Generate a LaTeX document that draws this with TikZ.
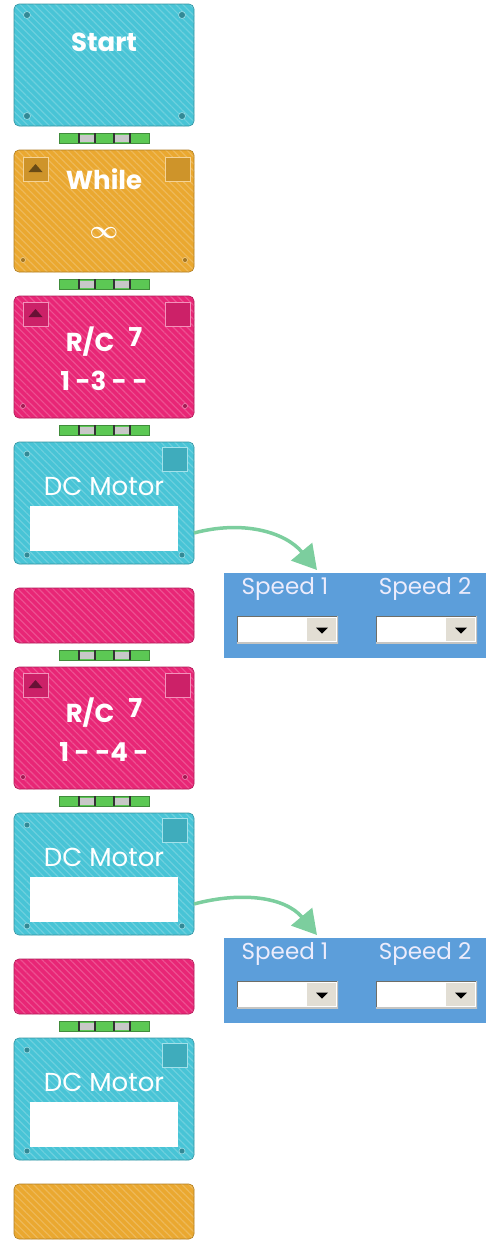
\documentclass[tikz,border=0pt]{standalone}
\usepackage{amsmath}
\usepackage{fontspec}
\setmainfont{Poppins}
\usetikzlibrary{arrows.meta, positioning, calc, patterns.meta}

\definecolor{blockcyan}{RGB}{72,196,214}
\definecolor{blockorange}{RGB}{234,168,48}
\definecolor{blockpink}{RGB}{232,38,118}
\definecolor{linkgreen}{RGB}{92,200,84}
\definecolor{linkgray}{RGB}{200,200,200}
\definecolor{panelblue}{RGB}{92,158,218}
\definecolor{speedwhite}{RGB}{236,236,252}
\definecolor{combogray}{RGB}{226,222,212}
\definecolor{combodark}{RGB}{110,110,104}
\definecolor{flowgreen}{RGB}{124,206,158}

\begin{document}
\begin{tikzpicture}[x=1pt, y=1pt,
    node distance=24pt,
    every node/.style={inner sep=0pt, outer sep=0pt},
    block/.style={rectangle, rounded corners=5pt, minimum width=180pt, minimum height=122pt,
      draw=#1!75!black, line width=0.6pt, preaction={fill=#1},
      pattern={Lines[angle=-45, distance=5pt, line width=1.2pt]}, pattern color=#1!80!white},
    endblock/.style={block=#1, minimum height=55pt},
    blocktext/.style={text=white, font=\fontsize{26}{30}\selectfont\bfseries},
    link/.style={rectangle, fill=linkgreen, draw=linkgreen!70!black, line width=0.4pt,
      minimum width=90pt, minimum height=10pt},
    rivet/.style={fill=#1!70!black, draw=#1!55!white, line width=0.6pt},
    cornerbox/.style={rectangle, minimum width=25pt, minimum height=24pt,
      fill=#1!88!black, draw=#1!50!white, line width=0.8pt},
    upbutton/.style={cornerbox=#1, path picture={
        \fill[#1!45!black] ([shift={(-7,-3)}]path picture bounding box.center)
          -- ++(14,0) -- ++(-7,8) -- cycle;}},
    field/.style={rectangle, fill=white, minimum width=148pt, minimum height=45pt},
    panel/.style={rectangle, fill=panelblue, minimum width=262pt, minimum height=85pt},
    speedtext/.style={text=speedwhite, font=\fontsize{23}{25}\selectfont},
    combo/.style={rectangle, fill=white, minimum width=101pt, minimum height=27pt, path picture={
        \fill[combogray] ([shift={(-31,2)}]path picture bounding box.south east)
          rectangle ([shift={(-2,-2)}]path picture bounding box.north east);
        \fill[black] ([shift={(-22,2)}]path picture bounding box.east)
          -- ++(12,0) -- ++(-6,-6) -- cycle;
        \draw[combodark, line width=2pt] (path picture bounding box.south west)
          -- (path picture bounding box.north west) -- (path picture bounding box.north east);
        \draw[combodark!40!white, line width=1.5pt] (path picture bounding box.north east)
          -- (path picture bounding box.south east) -- (path picture bounding box.south west);}},
    flow/.style={draw=flowgreen, line width=3.5pt, -{Triangle[length=24pt, width=27pt]}}
  ]
  \useasboundingbox (0,0) rectangle (486,-1243);

  % program blocks, top to bottom
  \node[block=blockcyan] (start) at (104,-65) {};
  \node[block=blockorange, below=of start] (while) {};
  \node[block=blockpink, below=of while] (rc1) {};
  \node[block=blockcyan, below=of rc1] (dc1) {};
  \node[endblock=blockpink, below=of dc1] (pink1) {};
  \node[block=blockpink, below=of pink1] (rc2) {};
  \node[block=blockcyan, below=of rc2] (dc2) {};
  \node[endblock=blockpink, below=of dc2] (pink2) {};
  \node[block=blockcyan, below=of pink2] (dc3) {};
  \node[endblock=blockorange, below=of dc3] (whileend) {};

  % links between blocks
  \node[link] (link1) at ($(start.south)!0.5!(while.north)$) {};
  \node[link] (link2) at ($(while.south)!0.5!(rc1.north)$) {};
  \node[link] (link3) at ($(rc1.south)!0.5!(dc1.north)$) {};
  \node[link] (link4) at ($(pink1.south)!0.5!(rc2.north)$) {};
  \node[link] (link5) at ($(rc2.south)!0.5!(dc2.north)$) {};
  \node[link] (link6) at ($(pink2.south)!0.5!(dc3.north)$) {};
  \foreach \l in {link1,link2,link3,link4,link5,link6}
    \foreach \s in {19,54} {
      \fill[linkgray] ([shift={(\s,1.5)}]\l.south west) rectangle ([shift={(\s+18,-1.5)}]\l.north west);
      \fill[black!80] ([shift={(\s,0)}]\l.south west) rectangle ([shift={(\s+2,0)}]\l.north west);
      \fill[black!80] ([shift={(\s+16,0)}]\l.south west) rectangle ([shift={(\s+18,0)}]\l.north west);
    }

  % start
  \node[blocktext] (starttext) at ([yshift=-38]start.north) {Start};
  \foreach \c/\dx/\dy in {north west/13/-11, north east/-12/-11, south west/13/10, south east/-12/10}
    \fill[rivet=blockcyan] ([shift={(\dx,\dy)}]start.\c) circle (3.5);

  % while
  \node[blocktext] (whiletext) at ([yshift=-29]while.north) {While};
  \node[blocktext] (whileloop) at ([yshift=-83]while.north) {$\boldsymbol{\infty}$};
  \node[upbutton=blockorange, anchor=north west] (whileup) at ([shift={(9,-7)}]while.north west) {};
  \node[cornerbox=blockorange, anchor=north east] (whilebox) at ([shift={(-4,-7)}]while.north east) {};
  \fill[rivet=blockorange] ([shift={(9,12)}]while.south west) circle (2.5);
  \fill[rivet=blockorange] ([shift={(-9,12)}]while.south east) circle (2.5);

  % remote control blocks
  \node[blocktext] (rc1text) at ([yshift=-46]rc1.north) {R/C\hspace{14pt}\raisebox{5pt}{7}};
  \node[blocktext] (rc1code) at ([yshift=-85]rc1.north) {1 -3 - -};
  \node[blocktext] (rc2text) at ([yshift=-46]rc2.north) {R/C\hspace{14pt}\raisebox{5pt}{7}};
  \node[blocktext] (rc2code) at ([yshift=-85]rc2.north) {1 - -4 -};
  \foreach \b in {rc1,rc2} {
    \node[upbutton=blockpink, anchor=north west] (\b up) at ([shift={(9,-6)}]\b.north west) {};
    \node[cornerbox=blockpink, anchor=north east] (\b box) at ([shift={(-4,-6)}]\b.north east) {};
    \fill[rivet=blockpink] ([shift={(9,12)}]\b.south west) circle (2.5);
    \fill[rivet=blockpink] ([shift={(-9,12)}]\b.south east) circle (2.5);
  }

  % motor blocks
  \foreach \b in {dc1,dc2,dc3} {
    \node[blocktext, font=\fontsize{26}{30}\selectfont] (\b text) at ([yshift=-44]\b.north) {DC Motor};
    \node[field] (\b field) at ([yshift=-86.5]\b.north) {};
    \node[cornerbox=blockcyan, anchor=north east] (\b box) at ([shift={(-7,-5)}]\b.north east) {};
    \fill[rivet=blockcyan] ([shift={(13,-12)}]\b.north west) circle (3);
    \fill[rivet=blockcyan] ([shift={(13,9)}]\b.south west) circle (3);
    \fill[rivet=blockcyan] ([shift={(-12,9)}]\b.south east) circle (3);
  }

  % speed settings of the motors
  \node[panel, right=30pt of pink1] (speedA) {};
  \node[panel, right=30pt of pink2, yshift=6pt] (speedB) {};
  \foreach \p/\d in {speedA/dc1, speedB/dc2} {
    \node[speedtext] (\p one) at ([shift={(61,-16)}]\p.north west) {Speed 1};
    \node[speedtext] (\p two) at ([shift={(201,-16)}]\p.north west) {Speed 2};
    \node[combo] (\p onebox) at ([shift={(63.5,-56.5)}]\p.north west) {};
    \node[combo] (\p twobox) at ([shift={(202.5,-56.5)}]\p.north west) {};
    \draw[flow] ([yshift=-30]\d.east) to[out=15, in=130] ([shift={(93,3)}]\p.north west);
  }
\end{tikzpicture}
\end{document}
